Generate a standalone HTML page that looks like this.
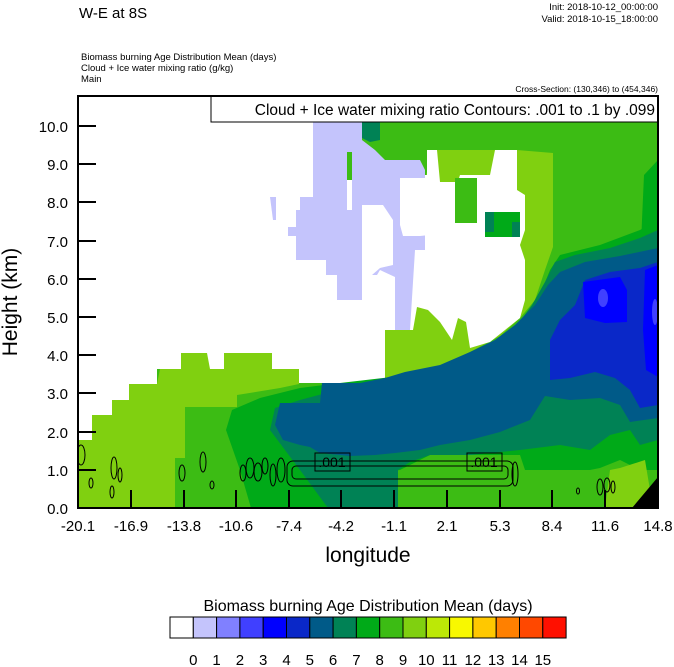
<!DOCTYPE html>
<html><head><meta charset="utf-8"><style>
body{margin:0;background:#fff;width:674px;height:667px;overflow:hidden}
svg{display:block;font-family:"Liberation Sans",sans-serif}
</style></head><body>
<svg width="674" height="667" viewBox="0 0 674 667">
<defs><clipPath id="c"><rect x="78" y="96" width="580" height="412"/></clipPath></defs>
<text x="79" y="18" font-size="15">W-E at 8S</text>
<text x="658" y="10" font-size="9.5" text-anchor="end">Init: 2018-10-12_00:00:00</text>
<text x="658" y="22" font-size="9.5" text-anchor="end">Valid: 2018-10-15_18:00:00</text>
<text x="81" y="60" font-size="9.5">Biomass burning Age Distribution Mean   (days)</text>
<text x="81" y="71" font-size="9.5">Cloud + Ice water mixing ratio   (g/kg)</text>
<text x="81" y="82" font-size="9.5">Main</text>
<text x="658" y="92" font-size="8.5" text-anchor="end">Cross-Section: (130,346) to (454,346)</text>
<g clip-path="url(#c)">
<rect x="78" y="96" width="580" height="412" fill="#3cbc14"/>
<polygon fill="#80d010" points="362,330 362,395 400,378 440,366 470,352 500,336 520,318 535,300 545,270 553,247 553,153 517,150 437,150 430,160 420,200 360,250"/>
<polygon fill="#80d010" points="78,508 78,440 92,440 92,415 112,415 112,400 129,400 129,384 157,384 160,369 181,369 181,353 210,353 210,369 224,369 224,353 272,353 272,369 299,369 299,384 280,388 237,395 237,407 185,407 185,458 175,458 175,508"/>
<polygon fill="#fff" points="78,96 313,96 313,300 362,300 362,205 393,205 400,200 400,175 427,175 427,150 437,150 437,190 455,190 460,175 490,175 495,150 517,150 517,190 525,195 525,230 520,245 525,260 525,300 520,318 505,330 490,342 470,348 466,322 458,318 452,340 440,322 428,310 417,307 413,330 385,330 385,383 299,383 299,369 272,369 272,353 224,353 224,369 210,369 207,353 181,353 181,369 157,369 157,384 129,384 129,400 112,400 112,415 92,415 92,440 78,440"/>
<rect x="290" y="195" width="75" height="110" fill="#fff"/>
<polygon fill="#c4c4fc" points="313,96 362,96 362,140 375,150 385,160 420,160 425,170 425,250 415,250 410,330 395,330 395,277 380,270 362,300 337,300 337,275 326,275 326,260 296,260 296,236 288,236 288,227 296,227 296,210 300,210 300,197 313,197"/>
<polygon fill="#c4c4fc" points="270,197 276,197 276,220 273,220"/>
<polygon fill="#fff" points="362,205 383,205 393,220 393,265 380,268 372,275 362,280"/>
<polygon fill="#fff" points="400,178 427,178 427,150 437,150 440,182 455,182 458,232 420,236 403,236 400,225"/>
<rect x="362" y="275" width="21" height="108" fill="#fff"/>
<rect x="347" y="180" width="5" height="30" fill="#fff"/>
<rect x="347" y="152" width="5" height="28" fill="#3cbc14"/>
<rect x="455" y="178" width="22" height="45" fill="#3cbc14"/>
<rect x="485" y="212" width="35" height="25" fill="#00aa18"/>
<rect x="485" y="212" width="9" height="20" fill="#008255"/>
<rect x="512" y="222" width="8" height="15" fill="#008255"/>
<polygon fill="#008255" points="362,96 380,96 380,140 370,142 362,138"/>
<rect x="537" y="96" width="12" height="14" fill="#00aa18"/>
<polygon fill="#00aa18" points="644,175 658,160 658,270 640,272 642,220"/>
<polygon fill="#00aa18" points="226,430 232,410 260,398 300,388 340,383 400,376 460,360 500,340 525,318 540,295 550,270 560,255 600,245 640,230 658,220 658,470 640,470 620,460 600,468 590,470 525,470 520,455 430,455 400,470 330,480 330,508 251,508 240,470"/>
<polygon fill="#3cbc14" points="525,470 590,470 595,508 525,508"/>
<polygon fill="#80d010" points="620,468 645,460 650,490 632,508 605,508 610,470"/>
<polygon fill="#008255" points="270,430 275,408 300,400 330,392 380,380 420,372 460,360 490,345 515,328 532,305 545,282 555,262 575,255 610,248 640,238 658,230 658,440 640,445 630,430 610,435 590,450 560,445 520,450 470,455 430,455 410,462 398,470 398,508 328,508 300,470"/>
<polygon fill="#005a88" points="275,425 280,403 320,403 322,383 360,383 385,378 405,372 440,365 470,352 495,340 515,325 535,305 548,285 560,272 585,262 620,256 658,248 658,418 630,422 620,405 600,398 570,400 545,396 530,420 500,432 470,440 440,445 420,450 395,453 375,455 350,456 320,453 310,447 300,445 283,440"/>
<polygon fill="#0a28c8" points="550,340 560,320 575,305 585,280 610,272 640,268 658,262 658,405 640,408 630,390 615,378 595,372 570,378 550,380"/>
<polygon fill="#0000ff" points="583,282 620,277 627,290 627,322 605,323 585,318"/>
<polygon fill="#0000ff" points="645,270 658,265 658,377 646,370 643,330"/>
<ellipse cx="603" cy="298" rx="5" ry="9" fill="#4040ff"/>
<ellipse cx="655" cy="312" rx="3" ry="13" fill="#4040ff"/>
<polygon fill="#000" points="632,508 658,477 658,508"/>
<g fill="none" stroke="#000" stroke-width="1">
<rect x="287" y="461" width="226" height="25" rx="6"/>
<rect x="292" y="466" width="216" height="13" rx="4"/>
<ellipse cx="81" cy="455" rx="4" ry="10"/>
<ellipse cx="114" cy="468" rx="3" ry="11"/>
<ellipse cx="120" cy="475" rx="2" ry="7"/>
<ellipse cx="112" cy="492" rx="2" ry="6"/>
<ellipse cx="91" cy="483" rx="2" ry="5"/>
<ellipse cx="182" cy="473" rx="3" ry="8"/>
<ellipse cx="203" cy="462" rx="3" ry="10"/>
<ellipse cx="212" cy="485" rx="2" ry="4"/>
<ellipse cx="243" cy="473" rx="3" ry="8"/>
<ellipse cx="250" cy="468" rx="4" ry="10"/>
<ellipse cx="258" cy="472" rx="4" ry="9"/>
<ellipse cx="265" cy="466" rx="3" ry="8"/>
<ellipse cx="273" cy="475" rx="3" ry="11"/>
<ellipse cx="281" cy="470" rx="4" ry="12"/>
<ellipse cx="515" cy="474" rx="3" ry="12"/>
<ellipse cx="578" cy="491" rx="1.5" ry="3"/>
<ellipse cx="600" cy="487" rx="3" ry="8"/>
<ellipse cx="607" cy="485" rx="3" ry="7"/>
<ellipse cx="613" cy="487" rx="2" ry="6"/>
</g>
<rect x="315" y="453" width="35" height="18" fill="none" stroke="#000"/>
<text x="332" y="467" font-size="14" text-anchor="middle">.001</text>
<rect x="467" y="453" width="35" height="18" fill="none" stroke="#000"/>
<text x="484" y="467" font-size="14" text-anchor="middle">.001</text>
</g>
<rect x="211" y="96" width="447" height="26" fill="#fff" stroke="#000"/>
<text x="655" y="115" font-size="15.5" text-anchor="end">Cloud + Ice water mixing ratio Contours: .001 to .1 by .099</text>
<rect x="78" y="96" width="580" height="412" fill="none" stroke="#000" stroke-width="2"/>
<g stroke="#000" stroke-width="2">
<path d="M78,126h18M78,164h18M78,202h18M78,241h18M78,279h18M78,317h18M78,355h18M78,393h18M78,432h18M78,470h18"/>
<path d="M131,508v-18M184,508v-18M236,508v-18M289,508v-18M341,508v-18M394,508v-18M447,508v-18M500,508v-18M552,508v-18M605,508v-18"/>
</g>
<g font-size="15" text-anchor="end">
<text x="68" y="132">10.0</text><text x="68" y="170">9.0</text><text x="68" y="208">8.0</text><text x="68" y="247">7.0</text><text x="68" y="285">6.0</text><text x="68" y="323">5.0</text><text x="68" y="361">4.0</text><text x="68" y="399">3.0</text><text x="68" y="438">2.0</text><text x="68" y="476">1.0</text><text x="68" y="514">0.0</text>
</g>
<g font-size="15" text-anchor="middle">
<text x="78" y="531">-20.1</text><text x="131" y="531">-16.9</text><text x="184" y="531">-13.8</text><text x="236" y="531">-10.6</text><text x="289" y="531">-7.4</text><text x="341" y="531">-4.2</text><text x="394" y="531">-1.1</text><text x="447" y="531">2.1</text><text x="500" y="531">5.3</text><text x="552" y="531">8.4</text><text x="605" y="531">11.6</text><text x="658" y="531">14.8</text>
</g>
<text x="368" y="562" font-size="21" text-anchor="middle">longitude</text>
<text x="0" y="0" font-size="21" text-anchor="middle" transform="translate(17,302) rotate(-90)">Height (km)</text>
<text x="368" y="611" font-size="16" text-anchor="middle">Biomass burning Age Distribution Mean  (days)</text>
<g stroke="#000" stroke-width="1">
<rect x="170" y="617" width="23.3" height="21" fill="#fff"/>
<rect x="193.3" y="617" width="23.3" height="21" fill="#c4c4fc"/>
<rect x="216.6" y="617" width="23.3" height="21" fill="#8080ff"/>
<rect x="239.9" y="617" width="23.3" height="21" fill="#4040ff"/>
<rect x="263.2" y="617" width="23.3" height="21" fill="#0000ff"/>
<rect x="286.5" y="617" width="23.3" height="21" fill="#0a28c8"/>
<rect x="309.8" y="617" width="23.3" height="21" fill="#005a88"/>
<rect x="333.1" y="617" width="23.3" height="21" fill="#008255"/>
<rect x="356.4" y="617" width="23.3" height="21" fill="#00aa18"/>
<rect x="379.7" y="617" width="23.3" height="21" fill="#3cbc14"/>
<rect x="403" y="617" width="23.3" height="21" fill="#80d010"/>
<rect x="426.3" y="617" width="23.3" height="21" fill="#bce806"/>
<rect x="449.6" y="617" width="23.3" height="21" fill="#f8f800"/>
<rect x="472.9" y="617" width="23.3" height="21" fill="#ffc800"/>
<rect x="496.2" y="617" width="23.3" height="21" fill="#ff8000"/>
<rect x="519.5" y="617" width="23.3" height="21" fill="#ff4800"/>
<rect x="542.8" y="617" width="23.3" height="21" fill="#ff1000"/>
</g>
<g font-size="15" text-anchor="middle">
<text x="193.3" y="665">0</text><text x="216.6" y="665">1</text><text x="239.9" y="665">2</text><text x="263.2" y="665">3</text><text x="286.5" y="665">4</text><text x="309.8" y="665">5</text><text x="333.1" y="665">6</text><text x="356.4" y="665">7</text><text x="379.7" y="665">8</text><text x="403" y="665">9</text><text x="426.3" y="665">10</text><text x="449.6" y="665">11</text><text x="472.9" y="665">12</text><text x="496.2" y="665">13</text><text x="519.5" y="665">14</text><text x="542.8" y="665">15</text>
</g>
</svg>
</body></html>
